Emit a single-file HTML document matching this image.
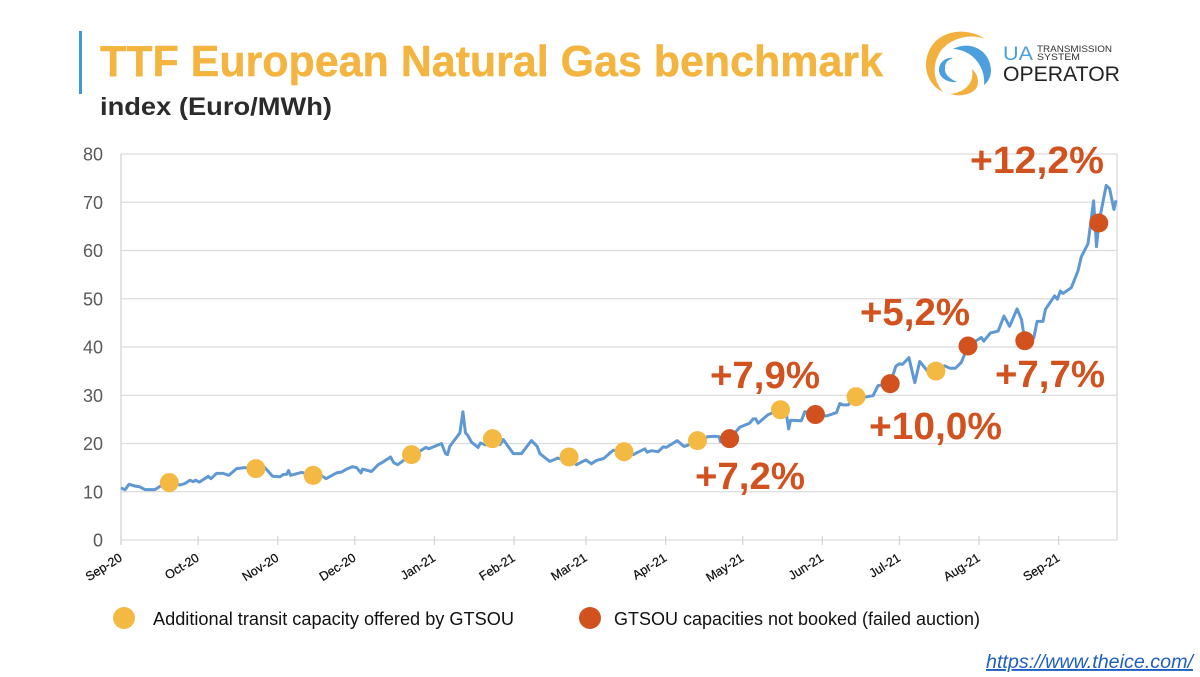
<!DOCTYPE html>
<html lang="en">
<head>
<meta charset="utf-8">
<title>TTF European Natural Gas benchmark</title>
<style>
html,body{margin:0;padding:0;background:#fff;width:1200px;height:677px;overflow:hidden}
svg{display:block;font-family:"Liberation Sans",sans-serif}
</style>
</head>
<body>
<svg id="chart" width="1200" height="677" viewBox="0 0 1200 677" xmlns="http://www.w3.org/2000/svg">
<rect x="79" y="31" width="3" height="63" fill="#3f97d5"/>
<text x="100" y="76" font-size="44" font-weight="700" fill="#f4b440" stroke="#f4b440" stroke-width="0.4" textLength="783" lengthAdjust="spacingAndGlyphs">TTF European Natural Gas benchmark</text>
<text x="100" y="115" font-size="25" font-weight="700" fill="#2b2b2b" textLength="232" lengthAdjust="spacingAndGlyphs">index (Euro/MWh)</text>

<g>
<path fill="#f2b13f" d="M985,39C965,25 930,30 926,62C925,75 932,87 943,92C933,80 932,65 940,52C950,38 970,33 985,39Z"/>
<path fill="#4b9fdc" d="M953,49C970,40 990,50 991,70C991,76 989,81 984,85C986,70 975,50 953,49Z"/>
<path fill="#4b9fdc" d="M953,58C945,57 939,63 939,70C939,78 948,83 957,82C950,79 944,74 945,68C945,62 948,60 953,58Z"/>
<path fill="#f2b13f" d="M972,69C980,76 980,88 972,92C965,96 957,96 950,94C962,93 975,85 972,69Z"/>
<text x="1003" y="60" font-size="19" fill="#4b9fdc" textLength="30" lengthAdjust="spacingAndGlyphs">UA</text>
<text x="1037" y="52" font-size="9.5" fill="#333" textLength="75" lengthAdjust="spacingAndGlyphs">TRANSMISSION</text>
<text x="1037" y="60" font-size="9.5" fill="#333" textLength="43" lengthAdjust="spacingAndGlyphs">SYSTEM</text>
<text x="1003" y="81" font-size="21" fill="#222" textLength="117" lengthAdjust="spacingAndGlyphs">OPERATOR</text>
</g>

<g id="grid"></g>
<g id="ticks"></g>
<path id="line" fill="none" stroke="#5f98d3" stroke-width="3" stroke-linejoin="round"/>
<g id="markers"></g>

<g font-size="38" font-weight="700" fill="#d2521f">
<text x="970" y="173" textLength="134" lengthAdjust="spacingAndGlyphs">+12,2%</text>
<text x="860" y="325" textLength="110" lengthAdjust="spacingAndGlyphs">+5,2%</text>
<text x="710" y="388" textLength="110" lengthAdjust="spacingAndGlyphs">+7,9%</text>
<text x="995" y="387" textLength="110" lengthAdjust="spacingAndGlyphs">+7,7%</text>
<text x="869" y="439" textLength="133" lengthAdjust="spacingAndGlyphs">+10,0%</text>
<text x="695" y="489" textLength="110" lengthAdjust="spacingAndGlyphs">+7,2%</text>
</g>

<g>
<circle cx="124" cy="618" r="11" fill="#f4b942"/>
<text x="153" y="625" font-size="18" fill="#111" textLength="361" lengthAdjust="spacingAndGlyphs">Additional transit capacity offered by GTSOU</text>
<circle cx="590" cy="618" r="11" fill="#d2521f"/>
<text x="614" y="625" font-size="18" fill="#111" textLength="366" lengthAdjust="spacingAndGlyphs">GTSOU capacities not booked (failed auction)</text>
</g>
<text x="986" y="668" font-size="19" font-style="italic" fill="#1f5fbf" text-decoration="underline" textLength="207" lengthAdjust="spacingAndGlyphs">https://www.theice.com/</text>
</svg>
<script>
// Days since 1 Sep 2020 for each price reading
const priceDays = [0,1.6,3.1,5.4,7.4,9.3,13.2,15.2,18.8,23,24.9,26.8,28.1,29,30.5,34,35,37.2,39.8,42,45,48.2,52.5,56,59,61.9,63.2,64.5,65.2,66,70.3,74.8,77.4,79.8,83.9,85.9,87.8,90.1,91.7,93.4,94,97.5,100.1,102.1,104.9,106.2,107.7,110.5,113.1,116.3,118.7,119.8,124.8,126.3,127.1,128,131.9,133.1,134.1,135.1,136.4,139,139.9,142,144.6,147.5,148.8,152.7,155.9,159.8,162,163,166.9,168.9,169.9,172.1,174.4,177.3,180.9,183.1,185.1,187.9,191.6,195.8,199.4,203.9,204.8,206.5,209.1,211,212.3,216.5,219.1,220.4,224.4,228.5,231.1,232.8,233.3,236.9,240.9,244.7,246,247.1,248,251.9,253.8,256.7,259,259.9,260.6,264.8,266.2,270.3,274.6,278.5,279.8,281,283,286.1,289.5,292.7,294.7,296,299.4,301.6,302.9,304.2,306.7,309,310.9,314.1,317.2,320.6,322.6,324.8,327.1,329.7,332.9,334.9,335.8,338.4,341.4,343.7,345.9,348.8,350.5,351.8,355.3,356.6,358.9,359.8,363.4,364.5,365.6,366.7,369.9,372.5,373.8,376.4,378.6,379.7,380.6,383.5,384.8,386.5,387.3];
// TTF price in Euro/MWh
const priceValues = [10.8,10.4,11.55,11.2,11,10.45,10.45,11.1,11.9,11.4,11.7,12.4,12.1,12.4,12,13.2,12.7,13.8,13.8,13.4,14.8,15,14.8,15,13.2,13.1,13.6,13.6,14.4,13.4,14,13.4,13.6,12.7,13.9,14.1,14.7,15.2,15,13.9,14.7,14.2,15.6,16.2,17.2,16,15.6,16.7,17.7,18.4,19.2,18.9,20,17.9,17.7,19.4,22.2,26.6,22.2,21.6,20.3,19.2,20.1,19.7,21,19.8,20.8,17.9,17.9,20.6,19.4,17.9,16.3,16.7,17,16.6,17.2,15.6,16.6,15.8,16.5,16.9,18.6,18.3,17.7,18.9,18.2,18.5,18.3,19.3,19.2,20.6,19.4,19.6,20.6,21.4,21.5,21.4,20.4,21,23.4,24.2,25.1,25.1,24.2,26,26.4,27,26,23,24.8,24.7,26.6,26,25.7,26.4,28.3,28,28,29.7,29.6,29.9,32,32.1,32.4,36,36.5,36.4,37.8,32.6,37,34.9,35,36.1,35.6,35.6,36.8,40.2,41.3,42,41.2,42.9,43.3,46.4,44.3,47.9,45.7,41.3,41.9,45.3,45.3,47.8,50.6,49.9,51.6,51.1,52.3,55.8,58.7,61.4,70.3,60.8,65.7,73.5,72.8,68.5,70.4];
// Auction events
const offeredDays = [18.8,52.5,74.8,113.1,144.6,174.4,195.8,224.4,256.7,286.1,317.2];
const offeredValues = [11.9,14.8,13.4,17.7,21,17.2,18.3,20.6,27,29.7,35];
const failedDays = [236.9,270.3,299.4,329.7,351.8,380.6];
const failedValues = [21,26,32.4,40.2,41.3,65.7];
// Axis labels
const monthLabels = ["Sep-20","Oct-20","Nov-20","Dec-20","Jan-21","Feb-21","Mar-21","Apr-21","May-21","Jun-21","Jul-21","Aug-21","Sep-21"];
const monthDays = [0,30,61,91,122,153,181,212,242,273,303,334,365];
const yTickValues = [0,10,20,30,40,50,60,70,80];

const NS = "http://www.w3.org/2000/svg";
const left = 121, right = 1117, base = 540, top80 = 154;
const maxDay = 387.3, maxValue = 80;
function xScale(d) { return left + d * (right - 1 - left) / maxDay; }
function yScale(v) { return base - v * (base - top80) / maxValue; }

const grid = document.getElementById("grid");
const ticks = document.getElementById("ticks");
const markers = document.getElementById("markers");

function shape(parent, tag, attrs) {
  const el = document.createElementNS(NS, tag);
  for (const k in attrs) el.setAttribute(k, attrs[k]);
  parent.appendChild(el);
  return el;
}

yTickValues.forEach(function (v) {
  const gl = shape(grid, "line", {x1: left, x2: right, y1: yScale(v), y2: yScale(v), stroke: "#dcdcdc", "stroke-width": 1.3});
  
  
  const t = shape(ticks, "text", {x: 103, y: yScale(v) + 6.5, "font-size": 18, fill: "#595959", "text-anchor": "end"});
  t.textContent = v;
  
  
});

const yAxis = shape(ticks, "line", {x1: left, x2: left, y1: top80, y2: base + 5, stroke: "#d4d4d4", "stroke-width": 1.3});


const rightEdge = shape(ticks, "line", {x1: right, x2: right, y1: top80, y2: base, stroke: "#d9d9d9", "stroke-width": 1.3});



monthLabels.forEach(function (label, i) {
  const x = xScale(monthDays[i]);
  const tk = shape(ticks, "line", {x1: x, x2: x, y1: base - 4, y2: base + 5, stroke: "#d4d4d4", "stroke-width": 1.2});
  
  
  const t = shape(ticks, "text", {x: x + 2, y: 560, "font-size": 12.5, fill: "#111", stroke: "#111", "stroke-width": 0.25, "text-anchor": "end", transform: "rotate(-32 " + (x + 2) + " 560)"});
  t.textContent = label;
  
  
});

let d = "";
priceDays.forEach(function (day, i) {
  d += (i ? "L" : "M") + xScale(day).toFixed(1) + "," + yScale(priceValues[i]).toFixed(1);
});
document.getElementById("line").setAttribute("d", d);

offeredDays.forEach(function (day, i) {
  const c = shape(markers, "circle", {cx: xScale(day), cy: yScale(offeredValues[i]), r: 9.5, fill: "#f4b942"});
  
  
});
failedDays.forEach(function (day, i) {
  const c = shape(markers, "circle", {cx: xScale(day), cy: yScale(failedValues[i]), r: 9.5, fill: "#d2521f"});
  
  
});
</script>
</body>
</html>
